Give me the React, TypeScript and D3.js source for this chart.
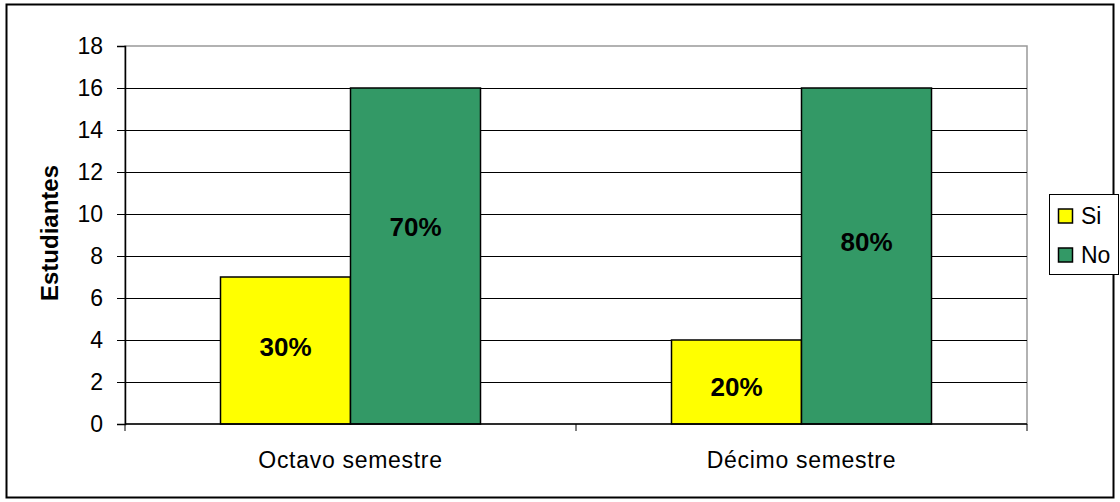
import * as React from 'react';
import {useEffect, useRef} from 'react';
import * as d3 from 'd3';

const categories = ['Octavo semestre', 'Décimo semestre'];
const seriesNames = ['Si', 'No'];
const siValues = [7, 4];
const noValues = [16, 16];
const siLabels = ['30%', '20%'];
const noLabels = ['70%', '80%'];
// where the percentage labels sit, in y-axis units
const siLabelAt = [3.7, 1.8];
const noLabelAt = [9.4, 8.7];
const yTicks = [0, 2, 4, 6, 8, 10, 12, 14, 16, 18];

const colors = ['#ffff00', '#339966'];

const App = () => {
    const chartRef = useRef(null);

    useEffect(() => {
        const svg = d3.select(chartRef.current);
        svg.selectAll('*').remove();

        const font = "'Liberation Sans', Arial, sans-serif";
        const left = 125, right = 1027, top = 46, bottom = 424;

        svg.append('rect')
            .attr('x', 6.5).attr('y', 4.5)
            .attr('width', 1107).attr('height', 493)
            .attr('fill', 'white').attr('stroke', 'black').attr('stroke-width', 2);

        const x = d3.scaleBand().domain(categories).range([left, right]);
        const xSeries = d3.scaleBand().domain(seriesNames).range([0, 260]);
        const y = d3.scaleLinear().domain([0, 18]).range([bottom, top]);

        // plot area border
        svg.append('rect')
            .attr('x', left).attr('y', top)
            .attr('width', right - left).attr('height', bottom - top)
            .attr('fill', 'white').attr('stroke', '#999').attr('stroke-width', 1.5);

        // gridlines
        svg.append('g')
            .selectAll('line')
            .data(yTicks.filter(t => t > 0 && t < 18))
            .enter()
            .append('line')
            .attr('x1', left).attr('x2', right)
            .attr('y1', d => Math.round(y(d)) + 0.5).attr('y2', d => Math.round(y(d)) + 0.5)
            .attr('stroke', 'black').attr('stroke-width', 1);

        const series = [
            {name: 'Si', values: siValues, labels: siLabels, at: siLabelAt, color: colors[0]},
            {name: 'No', values: noValues, labels: noLabels, at: noLabelAt, color: colors[1]},
        ];

        series.forEach(s => {
            const g = svg.append('g');
            g.selectAll('rect')
                .data(categories)
                .enter()
                .append('rect')
                .attr('x', (d) => x(d) + x.bandwidth() / 2 - 130 + xSeries(s.name))
                .attr('y', (d, i) => y(s.values[i]))
                .attr('width', xSeries.bandwidth())
                .attr('height', (d, i) => bottom - y(s.values[i]))
                .attr('fill', s.color)
                .attr('stroke', 'black').attr('stroke-width', 1.5);
            g.selectAll('text')
                .data(categories)
                .enter()
                .append('text')
                .attr('x', (d) => x(d) + x.bandwidth() / 2 - 130 + xSeries(s.name) + xSeries.bandwidth() / 2)
                .attr('y', (d, i) => y(s.at[i]))
                .attr('dy', '0.36em')
                .attr('text-anchor', 'middle')
                .style('font-family', font).style('font-size', '26px').style('font-weight', 'bold')
                .text((d, i) => s.labels[i]);
        });

        // y axis
        const yAxis = svg.append('g')
            .attr('transform', `translate(${left},0)`)
            .call(d3.axisLeft(y).tickValues(yTicks).tickSize(8).tickPadding(14));
        yAxis.select('.domain').attr('stroke', 'black').attr('stroke-width', 1.5);
        yAxis.selectAll('text').style('font-family', font).style('font-size', '23px').attr('fill', 'black');

        // x axis
        const xAxis = svg.append('g')
            .attr('transform', `translate(0,${bottom})`);
        xAxis.append('line').attr('x1', left).attr('x2', right).attr('stroke', 'black').attr('stroke-width', 1.5);
        xAxis.selectAll('line.tick')
            .data([left, left + x.bandwidth(), right])
            .enter()
            .append('line')
            .attr('class', 'tick')
            .attr('x1', d => d).attr('x2', d => d)
            .attr('y1', 0).attr('y2', 7)
            .attr('stroke', 'black');
        xAxis.selectAll('text')
            .data(categories)
            .enter()
            .append('text')
            .attr('x', d => x(d) + x.bandwidth() / 2)
            .attr('y', 44)
            .attr('text-anchor', 'middle')
            .style('font-family', font).style('font-size', '23px').style('letter-spacing', '0.7px')
            .text(d => d);

        svg.append('text')
            .attr('transform', `translate(58,${233}) rotate(-90)`)
            .attr('text-anchor', 'middle')
            .style('font-family', font).style('font-size', '24px').style('font-weight', 'bold')
            .text('Estudiantes');

        // legend
        const legend = svg.append('g');
        legend.append('rect')
            .attr('x', 1049.5).attr('y', 194.5).attr('width', 69).attr('height', 80)
            .attr('fill', 'white').attr('stroke', 'black').attr('stroke-width', 1);
        seriesNames.forEach((name, i) => {
            legend.append('rect')
                .attr('x', 1058.5).attr('y', 209 + i * 39).attr('width', 14).attr('height', 14)
                .attr('fill', colors[i]).attr('stroke', 'black').attr('stroke-width', 1.5);
            legend.append('text')
                .attr('x', 1081).attr('y', 216 + i * 39)
                .attr('dy', '0.36em')
                .style('font-family', font).style('font-size', '23px')
                .text(name);
        });
    }, []);

    return (
        <svg ref={chartRef} width={1120} height={502} style={{position: 'absolute', left: 0, top: 0}}></svg>
    );
};

export default App;
